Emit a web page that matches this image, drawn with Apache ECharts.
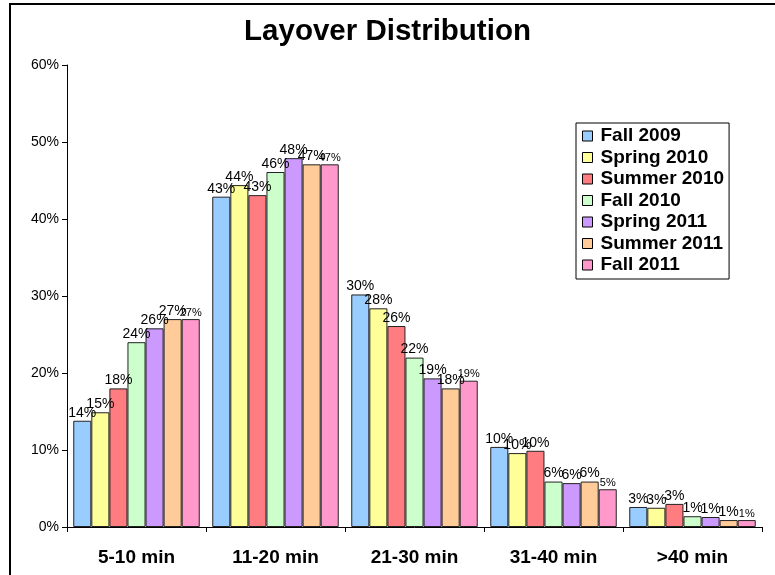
<!DOCTYPE html>
<html>
<head>
<meta charset="utf-8">
<script src="https://cdn.jsdelivr.net/npm/echarts@6/dist/echarts.min.js"></script>
<style>html,body{margin:0;padding:0;background:#fff}#c{width:775px;height:575px}</style>
</head>
<body>
<div id="c"></div>
<script>
var categories = ['5-10 min', '11-20 min', '21-30 min', '31-40 min', '>40 min'];
var seriesNames = ['Fall 2009', 'Spring 2010', 'Summer 2010', 'Fall 2010', 'Spring 2011', 'Summer 2011', 'Fall 2011'];
var fall2009   = [13.8, 42.9, 30.2, 10.4, 2.6];
var spring2010 = [14.9, 44.4, 28.4, 9.6, 2.5];
var summer2010 = [18.0, 43.1, 26.1, 9.9, 3.0];
var fall2010   = [24.0, 46.1, 22.0, 5.9, 1.4];
var spring2011 = [25.8, 47.9, 19.3, 5.7, 1.3];
var summer2011 = [27.0, 47.1, 18.0, 5.9, 0.9];
var fall2011   = [27.0, 47.1, 19.0, 4.9, 0.9];
var yTicks = [0, 10, 20, 30, 40, 50, 60];
var colors = ['#99CCFF', '#FFFF99', '#FF7C80', '#CCFFCC', '#CC99FF', '#FFCC99', '#FF99CC'];

var allData = [fall2009, spring2010, summer2010, fall2010, spring2011, summer2011, fall2011];
var FONT = '"Liberation Sans", Arial, sans-serif';

var chart = echarts.init(document.getElementById('c'), null, {renderer: 'canvas'});
var series = seriesNames.map(function (n, i) {
  return {
    name: n,
    type: 'bar',
    data: allData[i],
    barGap: '0%',
    barCategoryGap: '9%',
    itemStyle: {color: colors[i], borderColor: '#222', borderWidth: 1},
    label: {
      show: true,
      position: 'top',
      distance: 1,
      color: '#000',
      fontFamily: FONT,
      fontSize: i === 6 ? 11 : 14,
      formatter: function (p) { return Math.round(p.value) + '%'; }
    },
    labelLayout: {hideOverlap: false}
  };
});

chart.setOption({
  backgroundColor: '#fff',
  animation: false,
  title: {
    text: 'Layover Distribution',
    left: 'center',
    top: 12,
    textStyle: {fontFamily: FONT, fontWeight: 'bold', fontSize: 29.5, color: '#000'}
  },
  legend: {
    orient: 'vertical',
    left: 576,
    top: 123,
    padding: [3, 5, 4, 6],
    borderColor: '#000',
    borderWidth: 1,
    itemWidth: 10,
    itemHeight: 10,
    itemGap: 1.5,
    icon: 'rect',
    itemStyle: {borderColor: '#000', borderWidth: 1},
    textStyle: {fontFamily: FONT, fontWeight: 'bold', fontSize: 19, color: '#000', lineHeight: 20, padding: [0, 0, 0, 3]},
    data: seriesNames
  },
  grid: {left: 67, right: 13, top: 65, bottom: 48, containLabel: false},
  xAxis: {
    type: 'category',
    data: categories,
    axisLine: {lineStyle: {color: '#000', width: 1}},
    axisTick: {show: true, length: 5, lineStyle: {color: '#000'}},
    axisLabel: {fontFamily: FONT, fontWeight: 'bold', fontSize: 19, color: '#000', margin: 21}
  },
  yAxis: {
    type: 'value',
    min: yTicks[0],
    max: yTicks[yTicks.length - 1],
    interval: yTicks[1] - yTicks[0],
    axisLine: {show: true, lineStyle: {color: '#000', width: 1}},
    axisTick: {show: true, length: 5, lineStyle: {color: '#000'}},
    splitLine: {show: false},
    axisLabel: {fontFamily: FONT, fontSize: 14, color: '#000', margin: 8, formatter: '{value}%'}
  },
  graphic: [{
    type: 'rect',
    shape: {x: 10, y: 4, width: 800, height: 600},
    style: {fill: 'none', stroke: '#000', lineWidth: 2},
    silent: true,
    z: 100
  }],
  series: series
});
</script>
</body>
</html>
